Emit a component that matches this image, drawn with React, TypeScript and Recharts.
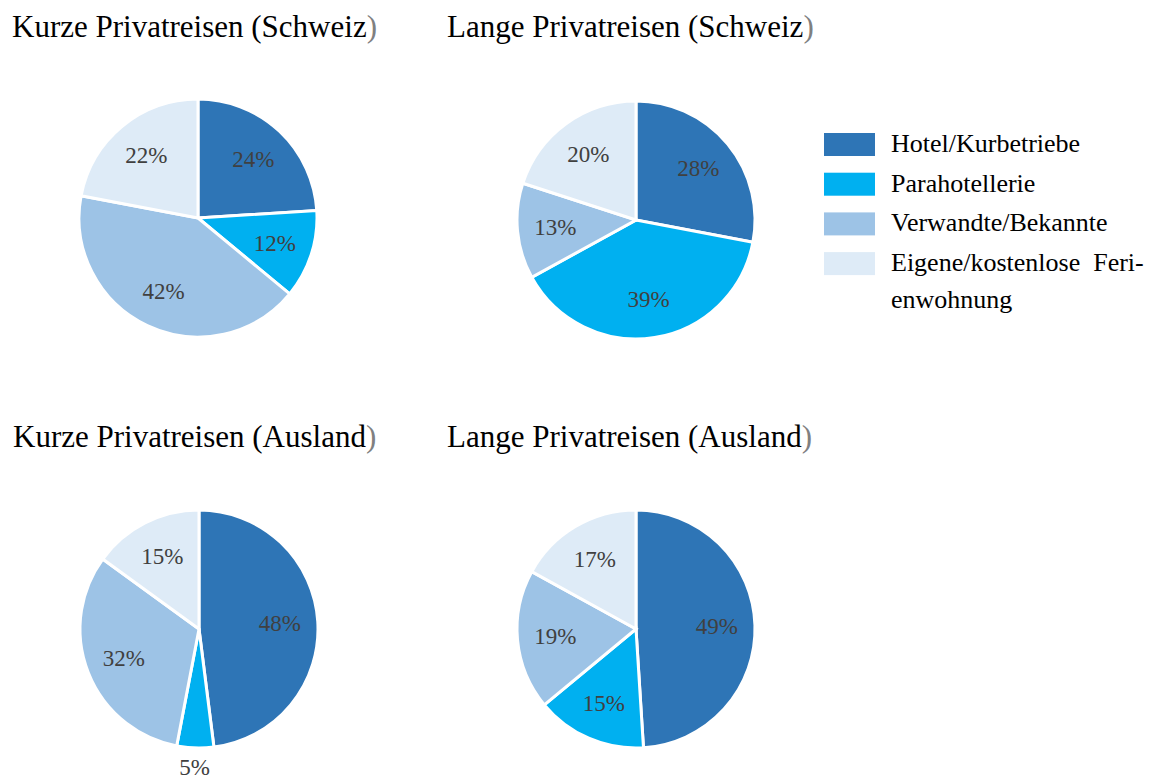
import React from "react";
import { PieChart, Pie, Cell } from "recharts";

const categories = [
  "Hotel/Kurbetriebe",
  "Parahotellerie",
  "Verwandte/Bekannte",
  "Eigene/kostenlose Ferienwohnung",
];
const legendLines = [
  ["Hotel/Kurbetriebe"],
  ["Parahotellerie"],
  ["Verwandte/Bekannte"],
  ["Eigene/kostenlose  Feri-", "enwohnung"],
];
const colors = ["#2E75B6", "#00B0F0", "#9DC3E6", "#DEEBF7"];

const kurzeSchweiz = [24, 12, 42, 22];
const langeSchweiz = [28, 39, 13, 20];
const kurzeAusland = [48, 5, 32, 15];
const langeAusland = [49, 15, 19, 17];

const titleMain = [
  "Kurze Privatreisen (Schweiz",
  "Lange Privatreisen (Schweiz",
  "Kurze Privatreisen (Ausland",
  "Lange Privatreisen (Ausland",
];

const series = [kurzeSchweiz, langeSchweiz, kurzeAusland, langeAusland];
const layout = [
  { cx: 198, cy: 218, tx: 12, ty: 37 },
  { cx: 636, cy: 220, tx: 447, ty: 37 },
  { cx: 199, cy: 629, tx: 13, ty: 447 },
  { cx: 636, cy: 629, tx: 447, ty: 447 },
];
const R = 119;
const RADIAN = Math.PI / 180;

const makeData = (vals: number[]) =>
  categories.map((c, i) => ({ name: c, value: vals[i] }));

const renderLabel = (props: any) => {
  const { cx, cy, midAngle, outerRadius, percent } = props;
  const small = percent < 0.08;
  const r = small ? outerRadius + 20 : outerRadius * 0.68;
  const x = cx + r * Math.cos(-midAngle * RADIAN);
  const y = cy + r * Math.sin(-midAngle * RADIAN);
  return (
    <text
      x={x}
      y={y}
      fill="#404040"
      fontSize={23}
      fontFamily="'Liberation Serif', 'Times New Roman', serif"
      textAnchor="middle"
      dominantBaseline="central"
    >
      {`${Math.round(percent * 100)}%`}
    </text>
  );
};

export default function App() {
  return (
    <div
      style={{
        position: "absolute",
        left: 0,
        top: 0,
        width: 1153,
        height: 780,
        background: "#fff",
      }}
    >
      <PieChart
        width={1153}
        height={780}
        margin={{ top: 0, right: 0, bottom: 0, left: 0 }}
      >
        {series.map((vals, si) => (
          <Pie
            key={si}
            data={makeData(vals)}
            dataKey="value"
            nameKey="name"
            cx={layout[si].cx}
            cy={layout[si].cy}
            outerRadius={R}
            startAngle={90}
            endAngle={-270}
            stroke="#ffffff"
            strokeWidth={3}
            label={renderLabel}
            labelLine={false}
            isAnimationActive={false}
          >
            {vals.map((_, i) => (
              <Cell key={i} fill={colors[i]} />
            ))}
          </Pie>
        ))}
      </PieChart>
      <svg
        width={1153}
        height={780}
        style={{ position: "absolute", left: 0, top: 0, pointerEvents: "none" }}
        fontFamily="'Liberation Serif', 'Times New Roman', serif"
      >
        {titleMain.map((t, i) => (
          <text key={i} x={layout[i].tx} y={layout[i].ty} fontSize={31} fill="#000">
            {t}
            <tspan fill="#808080">)</tspan>
          </text>
        ))}
        {legendLines.map((lines, i) => {
          const y = 133 + i * 39.7;
          return (
            <g key={i}>
              <rect x={824} y={y} width={51} height={23} fill={colors[i]} />
              {lines.map((ln, j) => (
                <text
                  key={j}
                  x={891}
                  y={y + 19 + j * 37}
                  fontSize={26}
                  fill="#000"
                  style={{ whiteSpace: "pre" }}
                >
                  {ln}
                </text>
              ))}
            </g>
          );
        })}
      </svg>
    </div>
  );
}
